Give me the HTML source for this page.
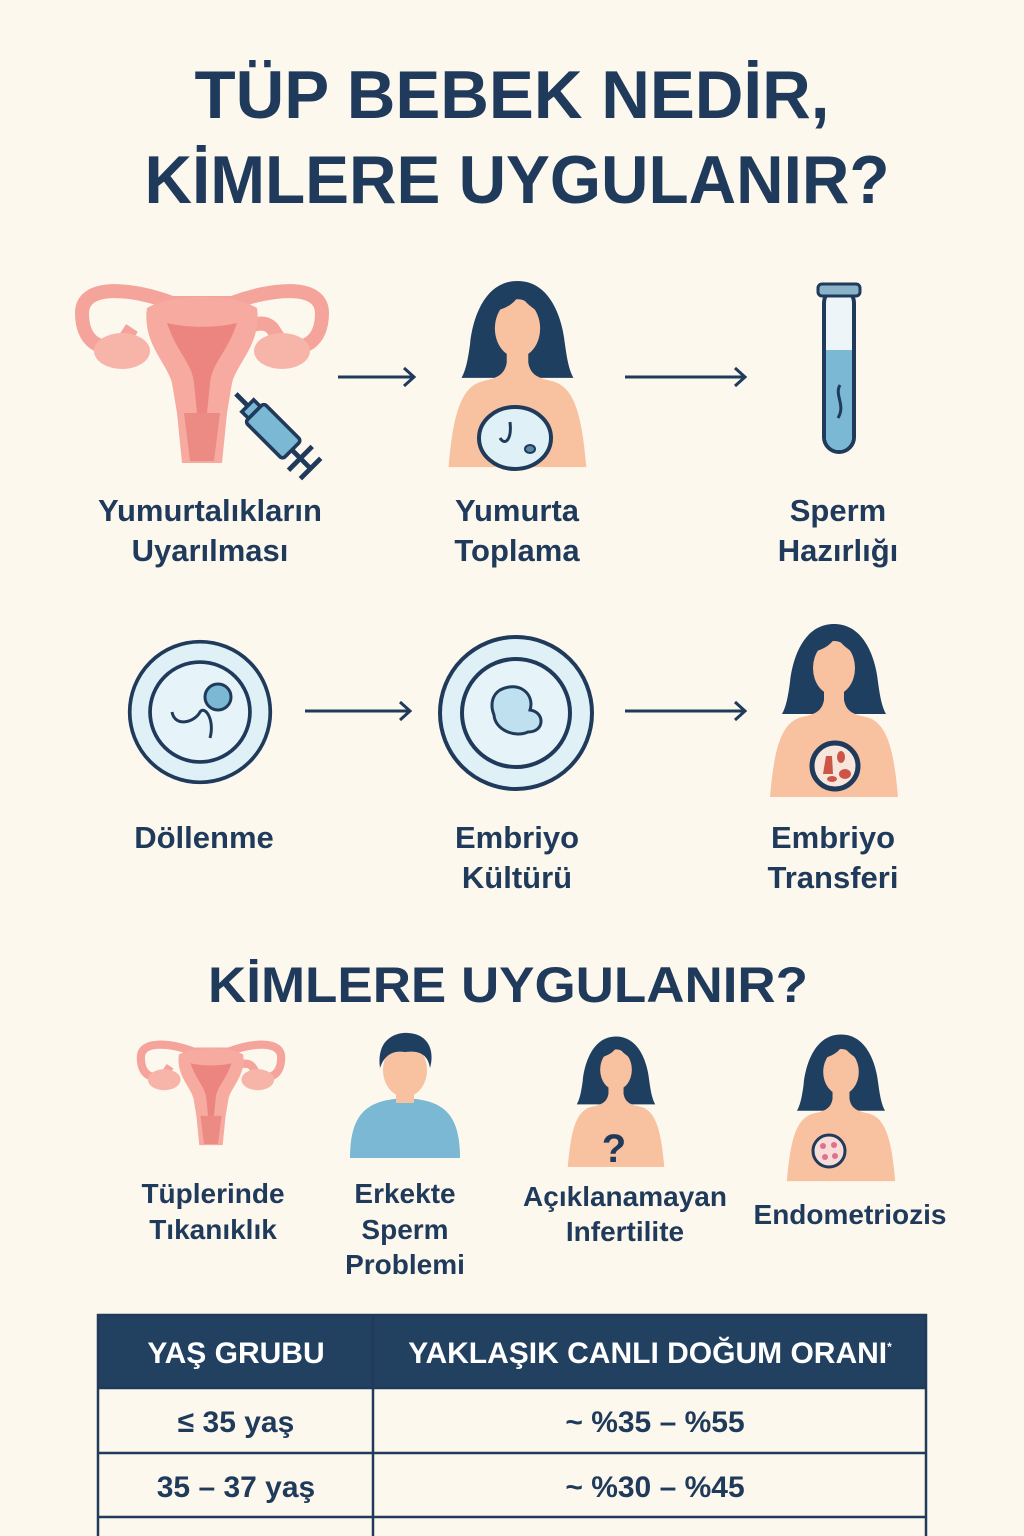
<!DOCTYPE html>
<html><head><meta charset="utf-8"><style>
html,body{margin:0;padding:0;background:#fdf8ee}
svg{display:block}
text{font-family:"Liberation Sans","DejaVu Sans",sans-serif;font-weight:bold;fill:#1f3a5a;text-anchor:middle}
</style></head><body>
<svg width="1024" height="1536" viewBox="0 0 1024 1536" xmlns="http://www.w3.org/2000/svg">
<defs>
<symbol id="woman" viewBox="0 0 144 175">
<path d="M72 2 C40 2 30 40 28 60 C26 75 24 85 20 92 L124 92 C120 85 118 75 116 60 C114 40 104 2 72 2 Z" fill="#1f3f60"/>
<path d="M8 175 C12 130 18 100 40 95 C55 92 60 88 62 78 L82 78 C84 88 89 92 104 95 C126 100 132 130 136 175 Z" fill="#f8c2a0"/>
<rect x="62" y="60" width="20" height="24" fill="#f8c2a0"/>
<ellipse cx="72" cy="46" rx="21" ry="27" fill="#f8c2a0"/>
<path d="M50 30 C62 28 70 22 74 14 C80 24 88 28 93 32 L93 18 C85 8 60 8 50 18Z" fill="#1f3f60"/>
</symbol>
<symbol id="uterus" viewBox="0 0 260 185">
<path d="M10 30 C10 0 60 5 100 20 L160 20 C200 5 250 0 250 30 C250 60 230 70 210 60 L200 45 C190 35 175 45 175 45 L178 50" fill="none" stroke="#f4a49a" stroke-width="14"/>
<path d="M10 30 C10 60 30 70 50 60 L60 45" fill="none" stroke="#f4a49a" stroke-width="14"/>
<ellipse cx="50" cy="68" rx="28" ry="18" fill="#f7b5aa"/>
<ellipse cx="210" cy="68" rx="28" ry="18" fill="#f7b5aa"/>
<path d="M75 25 C100 10 160 10 185 25 C190 60 165 80 160 100 L155 130 L150 180 L110 180 L105 130 L100 100 C95 80 70 60 75 25Z" fill="#f6aaa0"/>
<path d="M95 40 C115 45 145 45 165 40 C155 70 140 80 138 100 L135 130 L125 130 L122 100 C120 80 105 70 95 40Z" fill="#ec8580"/>
<path d="M112 130 L148 130 L142 178 L118 178Z" fill="#ec8a84"/>
</symbol>
<symbol id="dish" viewBox="0 0 160 160">
<circle cx="80" cy="80" r="76" fill="#dff0f7" stroke="#1f3a5a" stroke-width="4"/>
<circle cx="80" cy="80" r="54" fill="#e6f3f8" stroke="#1f3a5a" stroke-width="4"/>
</symbol>
</defs>

<text x="512" y="118" font-size="68" textLength="635" lengthAdjust="spacingAndGlyphs">TÜP BEBEK NEDİR,</text>
<text x="517" y="203" font-size="68" textLength="745" lengthAdjust="spacingAndGlyphs">KİMLERE UYGULANIR?</text>

<!-- row 1 icons -->
<use href="#uterus" x="72" y="283" width="260" height="185"/>
<g transform="translate(280,438) rotate(-45) scale(1.2)">
<line x1="0" y1="-52" x2="0" y2="-36" stroke="#1f3a5a" stroke-width="4"/>
<rect x="-7" y="-38" width="14" height="8" fill="#7ab8d4" stroke="#1f3a5a" stroke-width="3"/>
<rect x="-11" y="-30" width="22" height="44" rx="3" fill="#7ab8d4" stroke="#1f3a5a" stroke-width="3"/>
<line x1="0" y1="14" x2="0" y2="36" stroke="#1f3a5a" stroke-width="4"/>
<line x1="-14" y1="24" x2="14" y2="24" stroke="#1f3a5a" stroke-width="4"/>
<line x1="-12" y1="36" x2="12" y2="36" stroke="#1f3a5a" stroke-width="4"/>
</g>
<use href="#woman" x="440" y="270" width="155" height="206"/>
<ellipse cx="515" cy="438" rx="36" ry="31" fill="#dff0f7" stroke="#1f3a5a" stroke-width="4"/>
<path d="M510 422 C512 440 505 446 500 438" fill="none" stroke="#1f3a5a" stroke-width="3"/>
<ellipse cx="530" cy="449" rx="5" ry="4" fill="#5b88a8" stroke="#1f3a5a" stroke-width="2"/>
<rect x="824" y="288" width="30" height="164" rx="15" fill="#eef5f8" stroke="#1f3a5a" stroke-width="4"/>
<path d="M826 350 L852 350 L852 437 A13 13 0 0 1 826 437Z" fill="#7ab8d4"/>
<rect x="818" y="284" width="42" height="12" rx="4" fill="#8ab2c8" stroke="#1f3a5a" stroke-width="3"/>
<path d="M840 385 C834 395 846 405 838 418" fill="none" stroke="#1f3a5a" stroke-width="3"/>

<g stroke="#1f3a5a" stroke-width="3" fill="none">
<line x1="338" y1="377" x2="414" y2="377"/><path d="M404 368 L414 377 L404 386"/>
<line x1="625" y1="377" x2="745" y2="377"/><path d="M735 368 L745 377 L735 386"/>
<line x1="305" y1="711" x2="410" y2="711"/><path d="M400 702 L410 711 L400 720"/>
<line x1="625" y1="711" x2="745" y2="711"/><path d="M735 702 L745 711 L735 720"/>
</g>

<g font-size="31">
<text x="210" y="521">Yumurtalıkların</text><text x="210" y="561">Uyarılması</text>
<text x="517" y="521">Yumurta</text><text x="517" y="561">Toplama</text>
<text x="838" y="521">Sperm</text><text x="838" y="561">Hazırlığı</text>
<text x="204" y="848">Döllenme</text>
<text x="517" y="848">Embriyo</text><text x="517" y="888">Kültürü</text>
<text x="833" y="848">Embriyo</text><text x="833" y="888">Transferi</text>
</g>

<!-- row 2 icons -->
<use href="#dish" x="126" y="638" width="148" height="148"/>
<circle cx="218" cy="697" r="13" fill="#7ab8d4" stroke="#1f3a5a" stroke-width="3"/>
<path d="M172 712 C175 728 195 722 200 712 C205 705 215 720 210 738" fill="none" stroke="#1f3a5a" stroke-width="3"/>
<use href="#dish" x="436" y="633" width="160" height="160"/>
<path d="M500 690 C520 680 535 695 530 710 C545 712 545 732 528 732 C515 738 495 730 494 715 C490 705 492 695 500 690Z" fill="#bfe0ef" stroke="#1f3a5a" stroke-width="3"/>
<use href="#woman" x="762" y="622" width="144" height="175"/>
<circle cx="835" cy="766" r="23" fill="#f7e6dc" stroke="#1f3a5a" stroke-width="5"/>
<path d="M826 756 L832 756 L833 774 L823 774Z" fill="#cc5548"/>
<ellipse cx="841" cy="757" rx="4" ry="6" fill="#cc5548"/>
<ellipse cx="845" cy="774" rx="6" ry="5" fill="#cc5548"/>
<ellipse cx="832" cy="779" rx="5" ry="3" fill="#cc5548"/>

<text x="508" y="1002" font-size="50" textLength="600" lengthAdjust="spacingAndGlyphs">KİMLERE UYGULANIR?</text>

<!-- section icons -->
<use href="#uterus" x="135" y="1038" width="152" height="112"/>
<path d="M350 1158 C350 1110 370 1100 405 1098 C440 1100 460 1110 460 1158Z" fill="#7ab8d4"/>
<rect x="396" y="1085" width="18" height="18" fill="#f8c2a0"/>
<ellipse cx="405" cy="1070" rx="22" ry="27" fill="#f8c2a0"/>
<path d="M380 1068 C376 1040 395 1032 408 1033 C428 1034 435 1050 430 1068 C428 1055 420 1050 405 1052 C392 1050 384 1056 380 1068Z" fill="#1f3f60"/>
<use href="#woman" x="560" y="1035" width="112" height="132"/>
<text x="614" y="1162" font-size="40" font-weight="normal">?</text>
<use href="#woman" x="780" y="1032" width="122" height="150"/>
<circle cx="829" cy="1151" r="16" fill="#f8dcd8" stroke="#1f3a5a" stroke-width="3"/>
<g fill="#e07090"><circle cx="823" cy="1146" r="3"/><circle cx="834" cy="1145" r="3"/><circle cx="825" cy="1157" r="3"/><circle cx="835" cy="1156" r="3"/></g>

<g font-size="28">
<text x="213" y="1203">Tüplerinde</text><text x="213" y="1239">Tıkanıklık</text>
<text x="405" y="1203">Erkekte</text><text x="405" y="1239">Sperm</text><text x="405" y="1274">Problemi</text>
<text x="625" y="1206">Açıklanamayan</text><text x="625" y="1241">Infertilite</text>
<text x="850" y="1224">Endometriozis</text>
</g>

<!-- table -->
<rect x="98" y="1315" width="828" height="73" fill="#22405f"/>
<g stroke="#1f3a5a" stroke-width="2.5" fill="none">
<rect x="98" y="1315" width="828" height="240"/>
<line x1="373" y1="1315" x2="373" y2="1536"/>
<line x1="98" y1="1453" x2="926" y2="1453"/>
<line x1="98" y1="1517" x2="926" y2="1517"/>
<line x1="98" y1="1388" x2="926" y2="1388"/>
</g>
<g font-size="30">
<text x="236" y="1363" style="fill:#fff">YAŞ GRUBU</text>
<text x="650" y="1363" style="fill:#fff">YAKLAŞIK CANLI DOĞUM ORANI<tspan font-size="12" dy="-12">*</tspan></text>
<text x="236" y="1432">≤ 35 yaş</text>
<text x="655" y="1432">~ %35 – %55</text>
<text x="236" y="1497">35 – 37 yaş</text>
<text x="655" y="1497">~ %30 – %45</text>
</g>
</svg>
</body></html>
